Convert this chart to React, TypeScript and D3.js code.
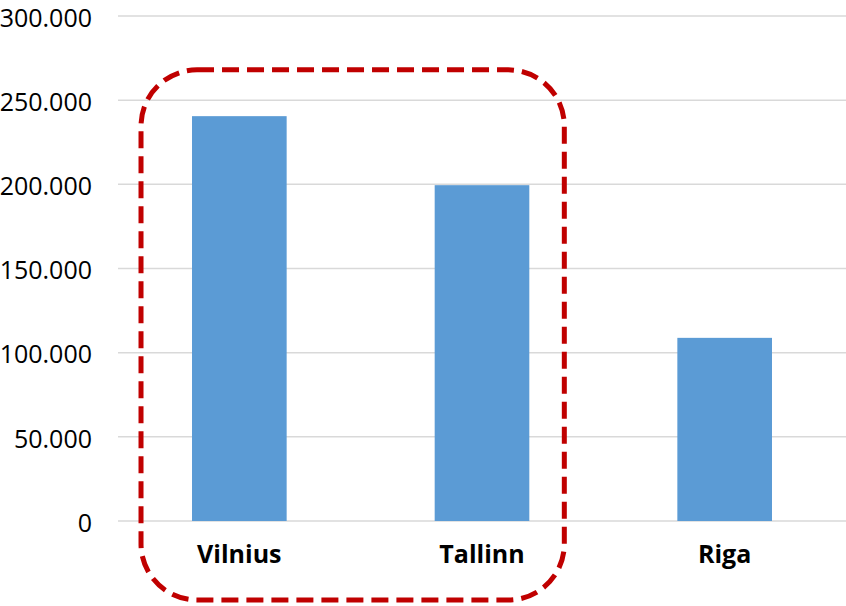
import React from "react";
import * as d3 from "d3";

const cities = ["Vilnius", "Tallinn", "Riga"];
const values = [240500, 199500, 108800];
const yTicks = [0, 50000, 100000, 150000, 200000, 250000, 300000];

const width = 846;
const height = 606;
const margin = { top: 16, right: 0, bottom: 85, left: 118 };

const fmt = (v: number) => d3.format(",")(v).replace(/,/g, ".");

export default function App() {
  const innerW = width - margin.left - margin.right;
  const innerH = height - margin.top - margin.bottom;

  const x = d3.scaleBand().domain(cities).range([0, innerW]).paddingInner(0.61).paddingOuter(0.305);
  const y = d3.scaleLinear().domain([0, 300000]).range([innerH, 0]);

  // dashed highlight around the first two cities
  const hx0 = (x("Vilnius") ?? 0) - 51;
  const hx1 = (x("Tallinn") ?? 0) + x.bandwidth() + 35;
  const hy0 = y(268000);
  const hy1 = innerH + 79;

  return (
    <svg width={width} height={height} style={{ position: "absolute", left: 0, top: 0 }}>
      <g transform={`translate(${margin.left},${margin.top})`}>
        {yTicks.map((t) => (
          <g key={t}>
            <line x1={0} x2={innerW} y1={y(t)} y2={y(t)} stroke="#d9d9d9" strokeWidth={1.5} />
            <text
              x={-26}
              y={y(t)}
              dy="0.43em"
              textAnchor="end"
              fontFamily="'Open Sans', sans-serif"
              fontSize={25}
              fill="#000"
            >
              {fmt(t)}
            </text>
          </g>
        ))}
        {cities.map((c, i) => (
          <rect
            key={c}
            x={x(c)}
            y={y(values[i])}
            width={x.bandwidth()}
            height={innerH - y(values[i])}
            fill="#5B9BD5"
          />
        ))}
        {cities.map((c) => (
          <text
            key={c}
            x={(x(c) ?? 0) + x.bandwidth() / 2}
            y={innerH + 42}
            textAnchor="middle"
            fontFamily="'Open Sans', sans-serif"
            fontWeight="bold"
            fontSize={25}
            fill="#000"
          >
            {c}
          </text>
        ))}
        <rect
          x={hx0}
          y={hy0}
          width={hx1 - hx0}
          height={hy1 - hy0}
          rx={56}
          ry={56}
          fill="none"
          stroke="#C00000"
          strokeWidth={5}
          strokeDasharray="17 8"
        />
      </g>
    </svg>
  );
}
